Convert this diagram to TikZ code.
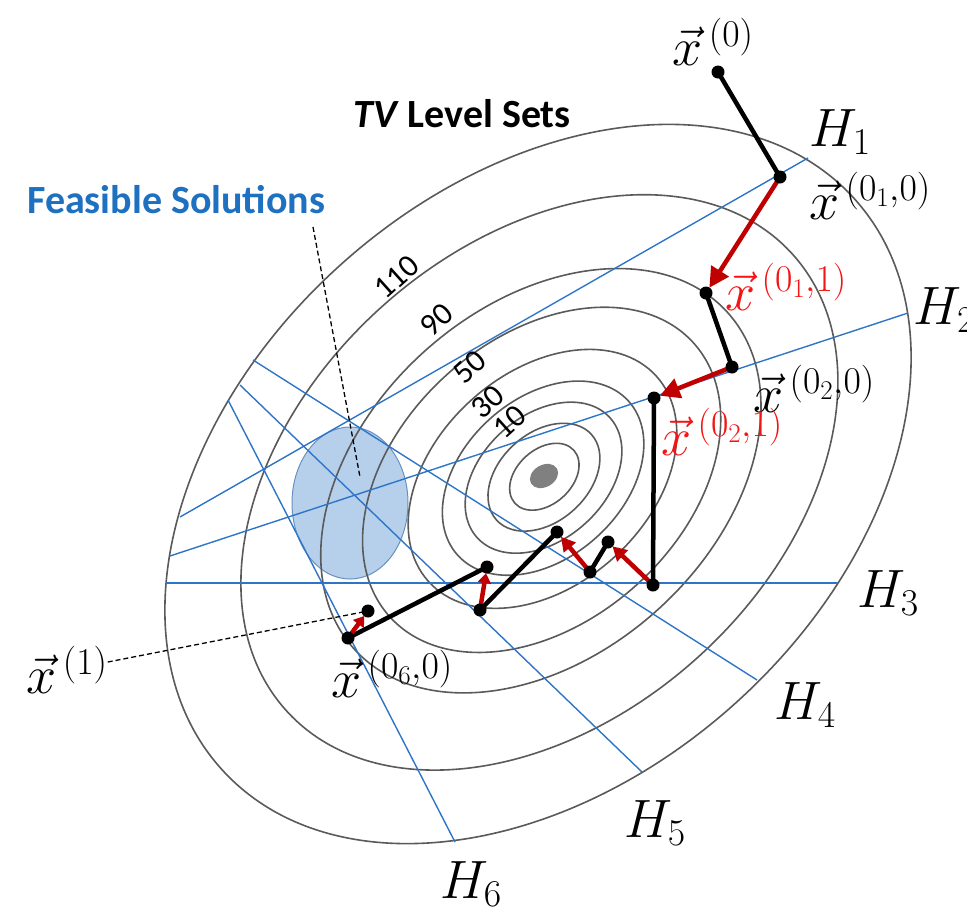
\RequirePackage{fix-cm}
\documentclass[tikz,border=0pt]{standalone}
\usepackage{fontspec}
\newfontfamily\calibri{Carlito}
\usetikzlibrary{arrows.meta}
\definecolor{ringc}{RGB}{90,90,90}
\definecolor{hblue}{RGB}{46,117,200}
\definecolor{feasfill}{RGB}{182,208,236}
\definecolor{feasdraw}{RGB}{105,145,192}
\definecolor{featxt}{RGB}{30,112,192}
\definecolor{stepred}{RGB}{192,0,0}
\definecolor{labred}{RGB}{245,20,20}
\definecolor{mindot}{RGB}{128,128,128}
\begin{document}
\begin{tikzpicture}[x=1pt,y=-1pt,
  ring/.style={draw=ringc, line width=1.6pt},
  hplane/.style={draw=hblue, line width=1.4pt},
  blackseg/.style={line width=4.5pt, black},
  redstep/.style={line width=4.5pt, stepred, -{Triangle[length=20pt,width=20pt]}},
  redmid/.style={line width=4.5pt, stepred, -{Triangle[length=14pt,width=15pt]}},
  redshort/.style={line width=4.5pt, stepred, -{Triangle[length=10pt,width=13pt]}},
  vdot/.style={circle, inner sep=0pt, minimum size=12pt},
  leader/.style={black, line width=1.3pt, dash pattern=on 5pt off 3pt},
  hlab/.style={inner sep=0pt, font=\fontsize{54}{60}\selectfont},
  xlab/.style={inner sep=0pt, font=\fontsize{54}{60}\selectfont},
  lvl/.style={inner sep=0pt, font=\calibri\fontsize{32}{36}\selectfont, rotate=42},
  bigtxt/.style={inner sep=0pt, anchor=base west, font=\calibri\bfseries\fontsize{40}{46}\selectfont}
]
\useasboundingbox (0,0) rectangle (967,916);

% feasible region
\fill[feasfill] (350,503) ellipse [x radius=58pt, y radius=76pt];
\draw[feasdraw, line width=1pt] (350,503) ellipse [x radius=58pt, y radius=76pt];

% level sets
\foreach \s in {1.0,0.80,0.59,0.48,0.36,0.27,0.21,0.15,0.093}{
  \pgfmathsetmacro{\cx}{545-7*\s}
  \pgfmathsetmacro{\cy}{476+8*\s}
  \draw[ring, rotate around={42:(\cx,\cy)}] (\cx,\cy) ellipse [x radius={426*\s*1pt}, y radius={295*\s*1pt}];
}
\fill[mindot, rotate around={30:(544,476)}] (544,476) ellipse [x radius=15pt, y radius=11pt];

% hyperplanes
\coordinate (a1) at (180,517); \coordinate (b1) at (808,158);
\coordinate (a2) at (170,556); \coordinate (b2) at (908,313);
\coordinate (a3) at (166,583); \coordinate (b3) at (838,583);
\coordinate (a4) at (253,360); \coordinate (b4) at (757,680);
\coordinate (a5) at (240,385); \coordinate (b5) at (642,772);
\coordinate (a6) at (228,400); \coordinate (b6) at (455,842);
\draw[hplane] (a1) -- (b1);
\draw[hplane] (a2) -- (b2);
\draw[hplane, line width=2pt] (a3) -- (b3);
\draw[hplane] (a4) -- (b4);
\draw[hplane] (a5) -- (b5);
\draw[hplane] (a6) -- (b6);

% level labels
\node[lvl] (l110) at (397,277) {110};
\node[lvl] (l90) at (437,320) {90};
\node[lvl] (l50) at (470,367) {50};
\node[lvl] (l30) at (488,402) {30};
\node[lvl] (l10) at (510,422) {10};

% titles
\node[bigtxt, text=featxt] (feas) at (27,213) {Feasible Solutions};
\node[bigtxt] (tv) at (353,127) {\textit{TV} Level Sets};
\coordinate (fl1) at (313,227);
\coordinate (fl2) at (360,477);
\draw[leader] (fl1) -- (fl2);

% H labels
\node[hlab] (h1) at (840,132) {$H_1$};
\node[hlab, anchor=west] (h2) at (913,310) {$H_2$};
\node[hlab] (h3) at (888,593) {$H_3$};
\node[hlab] (h4) at (805,705) {$H_4$};
\node[hlab] (h5) at (655,823) {$H_5$};
\node[hlab] (h6) at (471,884) {$H_6$};

% iterate points
\node[vdot] (p0) at (718,72) {};
\node[vdot] (p1) at (780,177) {};
\node[vdot] (p2) at (706,293) {};
\node[vdot] (p3) at (732,367) {};
\node[vdot] (p4) at (654,398) {};
\node[vdot] (p5) at (653,585) {};
\node[vdot] (p6) at (608,542) {};
\node[vdot] (p7) at (590,572) {};
\node[vdot] (p8) at (557,532) {};
\node[vdot] (p9) at (480,610) {};
\node[vdot] (p10) at (487,567) {};
\node[vdot] (p11) at (348,638) {};
\node[vdot] (p12) at (368,611) {};

% point labels
\node[xlab] (lx0) at (713,42) {$\vec{x}^{\,(0)}$};
\node[xlab] (lx1) at (870,196) {$\vec{x}^{\,(0_1,0)}$};
\node[xlab, text=labred] (lx2) at (786,287) {$\vec{x}^{\,(0_1,1)}$};
\node[xlab] (lx3) at (814,389) {$\vec{x}^{\,(0_2,0)}$};
\node[xlab, text=labred] (lx4) at (722,432) {$\vec{x}^{\,(0_2,1)}$};
\node[xlab] (lx6) at (392,674) {$\vec{x}^{\,(0_6,0)}$};
\node[xlab] (lxone) at (67,670) {$\vec{x}^{\,(1)}$};
\draw[leader] (lxone) -- (p12);

% path
\draw[blackseg] (p0.center) -- (p1.center);
\draw[blackseg] (p2.center) -- (p3.center);
\draw[blackseg] (p4.center) -- (p5.center);
\draw[blackseg] (p6.center) -- (p7.center);
\draw[blackseg] (p8.center) -- (p9.center);
\draw[blackseg] (p10.center) -- (p11.center);
\draw[redstep] (p1.center) -- (p2);
\draw[redstep] (p3.center) -- (p4);
\draw[redmid] (p5.center) -- (p6);
\draw[redmid] (p7.center) -- (p8);
\draw[redshort] (p9.center) -- (p10);
\draw[redshort] (p11.center) -- (p12);
\foreach \n in {p0,p1,p2,p3,p4,p5,p6,p7,p8,p9,p10,p11,p12}{
  \fill (\n.center) circle (6.5pt);
}
\end{tikzpicture}
\end{document}
